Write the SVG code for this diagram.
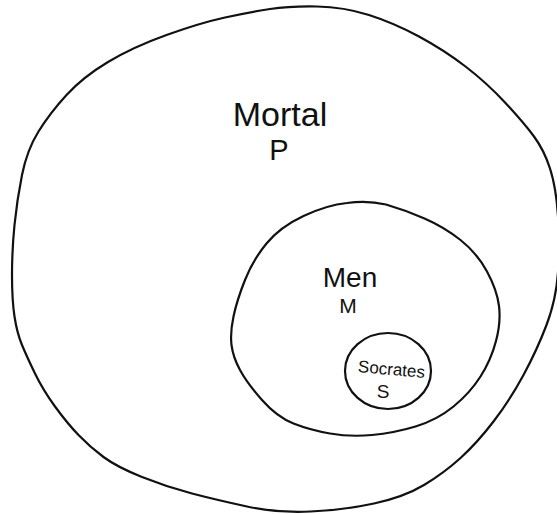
<svg xmlns="http://www.w3.org/2000/svg" width="557" height="514" viewBox="0 0 557 514">
<style>
.set{fill:none;stroke:#111;stroke-width:2.2;stroke-linejoin:round;stroke-linecap:round}
.lbl{font-family:"Liberation Sans","DejaVu Sans",sans-serif;fill:#111;text-anchor:middle}
</style>
<rect width="557" height="514" fill="#ffffff"/>
<g id="mortal">
<path class="set" d="M270,9 Q290,6 317,6.5 Q344,7 369,15 Q394,23 419,36.5 Q444,50 465.5,66.5 Q487,83 505.5,103 Q524,123 534,136.5 Q544,150 550,168.5 Q556,187 558,216 Q560,245 558,272.5 Q556,300 546.5,325 Q537,350 523.5,375 Q510,400 493.5,421.5 Q477,443 460.5,458 Q444,473 424,485 Q404,497 374,503.5 Q344,510 310.5,511.5 Q277,513 247,506.5 Q217,500 192,493.5 Q167,487 142,477 Q117,467 103.5,457 Q90,447 78.5,435 Q67,423 55,406.5 Q43,390 35,373.5 Q27,357 22,345 Q17,333 14.5,316.5 Q12,300 12,275 Q12,250 14.5,225 Q17,200 22,175 Q27,150 38.5,131.5 Q50,113 66.5,95 Q83,77 108,62 Q133,47 166.5,35 Q200,23 225,17.5 Q250,12 270,9 Z"/>
<text class="lbl" x="280" y="126" font-size="34">Mortal</text>
<text class="lbl" x="279" y="160" font-size="29">P</text>
</g>
<g id="men">
<path class="set" d="M347,203 Q367,200 386,204.5 Q405,210 424.5,218.5 Q444,227 460.5,240 Q477,253 487,271.5 Q497,290 499,306 Q501,322 496,341 Q491,360 480.5,376.5 Q470,393 453.5,406.5 Q437,420 415.5,426.5 Q394,433 372,435 Q350,437 330,433.5 Q310,430 293.5,423.5 Q277,417 262,400 Q247,383 240,370 Q233,357 231.5,345 Q230,333 233.5,316.5 Q237,300 245,280 Q253,260 266.5,243.5 Q280,227 303.5,216 Q327,205 347,203 Z"/>
<text class="lbl" x="350" y="287" font-size="28">Men</text>
<text class="lbl" x="348" y="313" font-size="21">M</text>
</g>
<g id="socrates">
<ellipse class="set" cx="388" cy="371" rx="43" ry="38"/>
<text class="lbl" x="391" y="375" font-size="17" transform="rotate(5 391 375)">Socrates</text>
<text class="lbl" x="383" y="398" font-size="19">S</text>
</g>
<g id="connectors"></g>
</svg>
